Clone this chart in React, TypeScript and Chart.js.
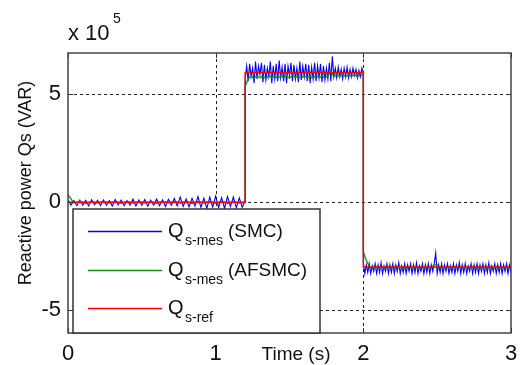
import React, { useEffect, useRef } from "react";
import { Chart, registerables } from "chart.js";

Chart.register(...registerables);

// ---- data (values in units of 10^5 VAR) ----
const xTicks = [0, 1, 2, 3];
const yTicks = [-5, 0, 5];

const refTime = [0, 1.2, 1.2, 2, 2, 3];
const refValue = [0, 0, 6, 6, -3, -3];

// SMC measured, t = 0 .. 1.2, step 0.02
const smcZero = [
  0.12, -0.14, 0.08, -0.16, 0.1, -0.14, 0.08, -0.17, 0.12, -0.12,
  0.09, -0.16, 0.11, -0.14, 0.07, -0.18, 0.12, -0.13, 0.1, -0.16,
  0.08, -0.14, 0.14, -0.17, 0.1, -0.15, 0.12, -0.19, 0.09, -0.14,
  0.14, -0.16, 0.11, -0.2, 0.13, -0.14, 0.17, -0.17, 0.24, -0.19,
  0.15, -0.22, 0.18, -0.18, 0.26, -0.24, 0.19, -0.29, 0.24, -0.22,
  0.28, -0.24, 0.21, -0.28, 0.26, -0.19, 0.24, -0.26, 0.2, -0.24,
  0.1,
];
// SMC measured, t = 1.2 .. 2.0, step 0.01
const smcHigh = [
  5.7, 6.3, 5.6, 6.4, 5.8, 6.2, 5.5, 6.5, 5.7, 6.3,
  5.9, 6.45, 5.55, 6.35, 5.65, 6.2, 5.8, 6.5, 5.5, 6.3,
  5.7, 6.4, 5.6, 6.55, 5.75, 6.25, 5.6, 6.4, 5.5, 6.3,
  5.85, 6.45, 5.6, 6.35, 5.7, 6.2, 5.55, 6.5, 5.65, 6.3,
  5.8, 6.4, 5.6, 6.35, 5.5, 6.25, 5.7, 6.45, 5.6, 6.3,
  5.75, 6.4, 5.55, 6.3, 5.65, 6.2, 5.7, 6.45, 5.6, 6.75,
  5.8, 6.2, 5.75, 6.25, 5.8, 6.15, 5.7, 6.2, 5.8, 6.25,
  5.75, 6.15, 5.8, 6.2, 5.85, 6.15, 5.75, 6.1, 5.8, 6.2,
  6.0,
];
// SMC measured, t = 2.0 .. 3.0, step 0.01
const smcLow = [
  -2.8, -3.3, -2.9, -3.25, -2.85, -3.3, -2.95, -3.2, -2.85, -3.3,
  -2.9, -3.25, -2.8, -3.3, -2.95, -3.2, -2.85, -3.3, -2.9, -3.25,
  -2.85, -3.3, -2.9, -3.2, -2.8, -3.3, -2.95, -3.25, -2.85, -3.3,
  -2.9, -3.2, -2.85, -3.3, -2.9, -3.25, -2.8, -3.3, -2.95, -3.2,
  -2.85, -3.3, -2.9, -3.25, -2.85, -3.3, -2.9, -3.2, -2.85, -2.35,
  -3.3, -2.9, -3.25, -2.85, -3.3, -2.9, -3.2, -2.85, -3.3, -2.95,
  -3.25, -2.85, -3.3, -2.9, -3.2, -2.8, -3.3, -2.9, -3.25, -2.85,
  -3.3, -2.95, -3.2, -2.85, -3.3, -2.9, -3.25, -2.85, -3.3, -2.9,
  -3.2, -2.85, -3.3, -2.9, -3.25, -2.8, -3.3, -2.95, -3.2, -2.85,
  -3.3, -2.9, -3.25, -2.85, -3.3, -2.9, -3.2, -2.85, -3.3, -2.9,
  -3.25,
];

// AFSMC measured, t = 0 .. 1.2, step 0.04
const afsmcZero = [
  0.35, -0.04, 0.03, -0.05, 0.02, -0.04, 0.04, -0.03, 0.03, -0.05,
  0.02, -0.04, 0.04, -0.04, 0.02, -0.05, 0.03, -0.03, 0.04, -0.04,
  0.03, -0.06, 0.04, -0.04, 0.05, -0.05, 0.03, -0.06, 0.04, -0.04,
  0.0,
];
// AFSMC measured, t = 1.2 .. 2.0, step 0.02
const afsmcHigh = [
  5.35, 5.72, 5.8, 5.74, 5.84, 5.76, 5.82, 5.72, 5.84, 5.77,
  5.81, 5.73, 5.84, 5.76, 5.82, 5.74, 5.85, 5.78, 5.81, 5.74,
  5.84, 5.77, 5.82, 5.73, 5.86, 5.76, 5.82, 5.74, 5.85, 6.05,
  5.8, 5.9, 5.82, 5.88, 5.81, 5.87, 5.83, 5.89, 5.82, 5.87,
  5.88,
];
// AFSMC measured, t = 2.0 .. 3.0, step 0.02
const afsmcLow = [
  -2.3, -2.7, -2.95, -3.04, -2.97, -3.05, -2.98, -3.04, -2.97, -3.05,
  -2.98, -3.04, -2.97, -3.05, -2.98, -3.04, -2.97, -3.05, -2.98, -3.04,
  -2.97, -3.05, -2.98, -3.04, -2.88, -2.9, -3.05, -2.98, -3.04, -2.97,
  -3.05, -2.98, -3.04, -2.97, -3.05, -2.98, -3.04, -2.97, -3.05, -2.98,
  -3.04, -2.97, -3.05, -2.98, -3.04, -2.97, -3.05, -2.98, -3.04, -2.97,
  -3.0,
];

const legendItems = [
  { main: "Q", sub: "s-mes", tail: "(SMC)", color: "#0000ff" },
  { main: "Q", sub: "s-mes", tail: "(AFSMC)", color: "#009900" },
  { main: "Q", sub: "s-ref", tail: "", color: "#ff0000" },
];

const yTitle = "Reactive power Qs (VAR)";
const xTitle = "Time (s)";

// ---- helpers ----
const sampled = (t0: number, dt: number, vals: number[]) =>
  vals.map((v, i) => ({ x: t0 + i * dt, y: v }));

const FONT = "'Liberation Sans', Arial, sans-serif";

const decor = {
  id: "decor",
  beforeDatasetsDraw(chart: any) {
    const { ctx, chartArea: a, scales } = chart;
    const xs = scales.x;
    const ys = scales.y;
    ctx.save();
    ctx.strokeStyle = "#222";
    ctx.lineWidth = 1;
    ctx.setLineDash([3, 3]);
    xTicks.slice(1, -1).forEach((v) => {
      const px = Math.round(xs.getPixelForValue(v)) + 0.5;
      ctx.beginPath();
      ctx.moveTo(px, a.top);
      ctx.lineTo(px, a.bottom);
      ctx.stroke();
    });
    yTicks.forEach((v) => {
      const py = Math.round(ys.getPixelForValue(v)) + 0.5;
      ctx.beginPath();
      ctx.moveTo(a.left, py);
      ctx.lineTo(a.right, py);
      ctx.stroke();
    });
    ctx.restore();
  },
  afterDatasetsDraw(chart: any) {
    const { ctx, chartArea: a, scales } = chart;
    const xs = scales.x;
    const ys = scales.y;
    ctx.save();
    // inner tick marks
    ctx.strokeStyle = "#333";
    ctx.lineWidth = 1;
    ctx.setLineDash([]);
    xTicks.forEach((v) => {
      const px = Math.round(xs.getPixelForValue(v)) + 0.5;
      ctx.beginPath();
      ctx.moveTo(px, a.bottom);
      ctx.lineTo(px, a.bottom - 5);
      ctx.moveTo(px, a.top);
      ctx.lineTo(px, a.top + 5);
      ctx.stroke();
    });
    yTicks.forEach((v) => {
      const py = Math.round(ys.getPixelForValue(v)) + 0.5;
      ctx.beginPath();
      ctx.moveTo(a.left, py);
      ctx.lineTo(a.left + 5, py);
      ctx.moveTo(a.right, py);
      ctx.lineTo(a.right - 5, py);
      ctx.stroke();
    });
    // frame
    ctx.strokeStyle = "#444";
    ctx.lineWidth = 1.5;
    ctx.strokeRect(a.left, a.top, a.right - a.left, a.bottom - a.top);

    // legend
    const L = 73, T = 209, R = 320, B = a.bottom;
    ctx.fillStyle = "#fff";
    ctx.fillRect(L, T, R - L, B - T);
    ctx.strokeStyle = "#333";
    ctx.lineWidth = 1.5;
    ctx.strokeRect(L, T, R - L, B - T);
    const lineYs = [231, 270, 308];
    legendItems.forEach((it, i) => {
      const ly = lineYs[i];
      ctx.strokeStyle = it.color;
      ctx.lineWidth = 1.5;
      ctx.beginPath();
      ctx.moveTo(88, ly + 0.5);
      ctx.lineTo(162, ly + 0.5);
      ctx.stroke();
      ctx.fillStyle = "#111";
      ctx.textBaseline = "alphabetic";
      ctx.textAlign = "left";
      ctx.font = `20px ${FONT}`;
      ctx.fillText(it.main, 168, ly + 6);
      ctx.font = `14px ${FONT}`;
      ctx.fillText(it.sub, 185, ly + 14);
      if (it.tail) {
        ctx.font = `19px ${FONT}`;
        ctx.fillText(it.tail, 228, ly + 6);
      }
    });
    ctx.restore();
  },
  afterDraw(chart: any) {
    const { ctx } = chart;
    ctx.save();
    ctx.fillStyle = "#111";
    ctx.textAlign = "left";
    ctx.textBaseline = "alphabetic";
    ctx.font = `22px ${FONT}`;
    ctx.fillText("x 10", 68, 40);
    ctx.font = `14px ${FONT}`;
    ctx.fillText("5", 113, 23);
    // x title
    ctx.font = `19px ${FONT}`;
    ctx.textAlign = "center";
    ctx.textBaseline = "middle";
    ctx.fillText(xTitle, 296, 355);
    // y title
    ctx.translate(26, 183);
    ctx.rotate(-Math.PI / 2);
    ctx.font = `18px ${FONT}`;
    ctx.fillText(yTitle, 0, 0);
    ctx.restore();
  },
};

export default function App() {
  const ref = useRef<HTMLCanvasElement | null>(null);

  useEffect(() => {
    document.body.style.margin = "0";
    const canvas = ref.current;
    if (!canvas) return;

    const refData = refTime.map((t, i) => ({ x: t, y: refValue[i] }));
    const smcData = [
      ...sampled(0, 0.02, smcZero),
      ...sampled(1.2, 0.01, smcHigh),
      ...sampled(2.0, 0.01, smcLow),
    ];
    const afsmcData = [
      ...sampled(0, 0.04, afsmcZero),
      ...sampled(1.2, 0.02, afsmcHigh),
      ...sampled(2.0, 0.02, afsmcLow),
    ];

    const chart = new Chart(canvas, {
      type: "line",
      data: {
        datasets: [
          { label: "Qs-ref", data: refData, borderColor: "#ff0000", borderWidth: 1.5, pointRadius: 0, tension: 0, order: 0 },
          { label: "Qs-mes (AFSMC)", data: afsmcData, borderColor: "#009900", borderWidth: 1.3, pointRadius: 0, tension: 0, order: 1 },
          { label: "Qs-mes (SMC)", data: smcData, borderColor: "#0000ff", borderWidth: 1.1, pointRadius: 0, tension: 0, order: 2 },
        ],
      },
      options: {
        animation: false,
        responsive: false,
        devicePixelRatio: 1,
        layout: { padding: { left: 0, top: 53, right: 11, bottom: 0 } },
        plugins: { legend: { display: false }, tooltip: { enabled: false } },
        scales: {
          x: {
            type: "linear",
            min: 0,
            max: 3,
            grid: { display: false, drawTicks: false },
            border: { display: false },
            afterBuildTicks: (s: any) => { s.ticks = xTicks.map((v) => ({ value: v })); },
            afterFit: (s: any) => { s.height = 32; s.paddingLeft = 0; s.paddingRight = 0; },
            ticks: { font: { size: 22, family: FONT }, color: "#111", padding: 8, maxRotation: 0, autoSkip: false },
          },
          y: {
            type: "linear",
            min: -6.05,
            max: 6.9,
            grid: { display: false, drawTicks: false },
            border: { display: false },
            afterBuildTicks: (s: any) => { s.ticks = yTicks.map((v) => ({ value: v })); },
            afterFit: (s: any) => { s.width = 68; s.paddingTop = 0; s.paddingBottom = 0; },
            ticks: { font: { size: 22, family: FONT }, color: "#111", padding: 7 },
          },
        },
      },
      plugins: [decor],
    } as any);

    return () => chart.destroy();
  }, []);

  return (
    <div style={{ width: 522, height: 365 }}>
      <canvas ref={ref} width={522} height={365} style={{ display: "block" }} />
    </div>
  );
}
